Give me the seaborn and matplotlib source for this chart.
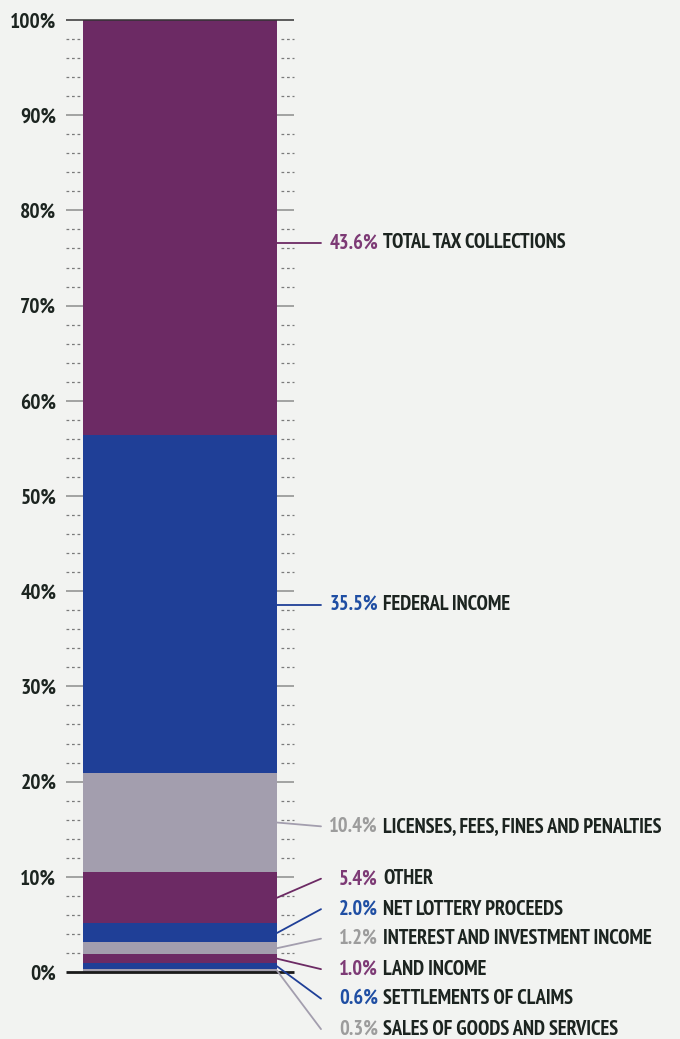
import matplotlib
matplotlib.use("Agg")
import matplotlib.pyplot as plt
from matplotlib import font_manager as fm
import seaborn as sns
import numpy as np

# ---- data (bottom to top of the stack) ----
sources = ["SALES OF GOODS AND SERVICES", "SETTLEMENTS OF CLAIMS", "LAND INCOME",
           "INTEREST AND INVESTMENT INCOME", "NET LOTTERY PROCEEDS", "OTHER",
           "LICENSES, FEES, FINES AND PENALTIES", "FEDERAL INCOME", "TOTAL TAX COLLECTIONS"]
shares = [0.3, 0.6, 1.0, 1.2, 2.0, 5.4, 10.4, 35.5, 43.6]
tick_values = [0, 10, 20, 30, 40, 50, 60, 70, 80, 90, 100]
tick_labels = [f"{v}%" for v in tick_values]

# ---- styles / layout ----
seg_colors = ["#a39eae", "#1f3f97", "#6c2a64"] * 3
txt_colors = ["#9c9c9c", "#1f4ea3", "#7d3a75"] * 3
label_y = [-6.0, -2.8, 0.3, 3.5, 6.6, 9.8, 15.3, 38.6, 76.6]
bg = "#f2f3f1"
ink = "#1c2420"

sns.set_theme(style="white")
available = {f.name for f in fm.fontManager.ttflist}
families = [f for f in ["PT Sans Narrow", "Open Sans Condensed", "Fira Sans Condensed"] if f in available]
narrow = bool(families)
plt.rcParams["font.family"] = families + ["DejaVu Sans"]
plt.rcParams["font.stretch"] = "condensed"
scale = 1.0 if narrow else 0.8

W, H = 680, 1039
fig = plt.figure(figsize=(W / 100, H / 100), dpi=100, facecolor=bg)
ax_l, ax_r, y0, y100 = 66, 294, 972, 20
ax = fig.add_axes([ax_l / W, (H - y0) / H, (ax_r - ax_l) / W, (y0 - y100) / H])
ax.set_facecolor(bg)

def px2x(px):
    return -0.5 + (px - ax_l) / (ax_r - ax_l)

bar_w = (277 - 83) / (ax_r - ax_l)
bottoms = np.concatenate([[0], np.cumsum(shares)[:-1]])
for name, val, b, c in zip(sources, shares, bottoms, seg_colors):
    sns.barplot(x=["all"], y=[val], bottom=b, color=c, width=bar_w,
                saturation=1, ax=ax, zorder=3, linewidth=0)

ax.set_xlim(-0.5, 0.5)
ax.set_ylim(0, 100)
ax.set_xlabel("")
ax.set_ylabel("")
ax.set_xticks([])
ax.set_yticks(tick_values)
ax.set_yticklabels(tick_labels, fontsize=15.5 * scale, fontweight="bold", color=ink)
ax.tick_params(axis="y", length=0, pad=7)
for s in ax.spines.values():
    s.set_visible(False)

# major lines
trans = ax.get_yaxis_transform()
for v in tick_values:
    if v == 0:
        col, lw, z = "#1a1a1a", 2.0, 4
    elif v == 100:
        col, lw, z = "#333333", 1.1, 4
    else:
        col, lw, z = "#8c8c8c", 1.1, 2
    ax.plot([0, 1], [v, v], transform=trans, color=col, lw=lw, zorder=z,
            clip_on=False, solid_capstyle="butt")
# minor dashed ticks
minor = [v for v in range(2, 100, 2) if v % 10 != 0]
for v in minor:
    for xa, xb in [(0, 14 / 228), (215 / 228, 1)]:
        ax.plot([xa, xb], [v, v], transform=trans, color="#7a7a7a", lw=0.9,
                ls=(0, (2.2, 2.2)), clip_on=False, zorder=2)

# labels with leader lines
bar_edge = px2x(277)
line_end = px2x(321)
pct_x = px2x(378)
name_x = px2x(383)
for name, val, b, c, tc, ly in zip(sources, shares, bottoms, seg_colors, txt_colors, label_y):
    mid = b + val / 2
    start_y = mid if val < 20 else ly
    ax.plot([bar_edge, line_end], [start_y, ly], color=c, lw=1.3, clip_on=False, zorder=4)
    ax.annotate(f"{val:.1f}%", (pct_x, ly), ha="right", va="center", fontsize=14.8 * scale,
                fontweight="bold", color=tc, annotation_clip=False)
    ax.annotate(name, (name_x, ly), ha="left", va="center", fontsize=14.8 * scale,
                fontweight="bold", color=ink, annotation_clip=False)

fig.savefig("out.png", dpi=100, facecolor=bg)
